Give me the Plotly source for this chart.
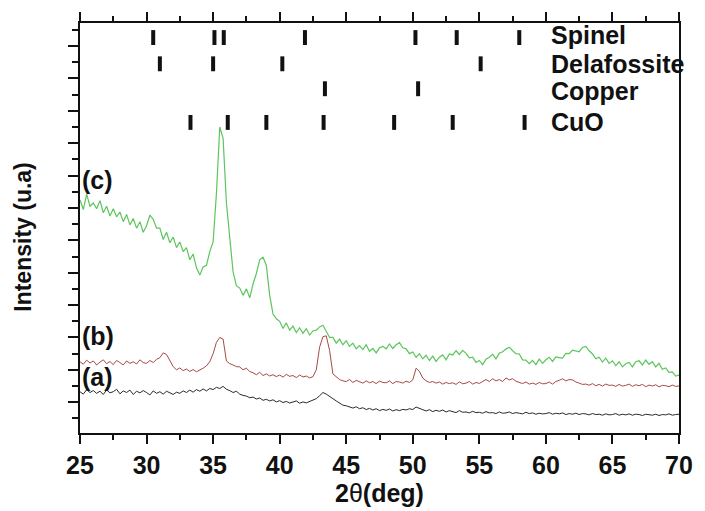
import numpy as np
import plotly.graph_objects as go

# 2-theta sampling grid (deg), 0.25 deg step
two_theta = np.round(np.arange(25.0, 70.0001, 0.25), 2)

# (a) black pattern
intensity_a = [
    165, 150, 178, 160, 172, 155, 168, 148, 176, 158, 165, 180, 152, 170, 160, 175,
    148, 168, 158, 172, 160, 145, 170, 155, 165, 150, 168, 158, 148, 162, 155, 170,
    160, 175, 162, 178, 168, 182, 170, 185, 178, 192, 185, 198, 180, 172, 160, 168,
    150, 142, 138, 128, 132, 120, 126, 112, 118, 108, 115, 102, 110, 98, 105, 95,
    100, 108, 94, 102, 96, 104, 110, 122, 140, 160, 150, 138, 122, 108, 95, 82,
    78, 70, 64, 72, 60, 66, 55, 62, 52, 60, 48, 56, 50, 58, 46, 54,
    48, 56, 52, 60, 55, 70, 62, 50, 46, 54, 42, 50, 44, 52, 40, 48,
    42, 36, 48, 38, 40, 34, 44, 36, 38, 32, 42, 34, 36, 30, 40, 32,
    34, 40, 30, 36, 32, 28, 38, 30, 34, 26, 32, 28, 30, 36, 26, 32,
    28, 34, 24, 30, 26, 32, 24, 30, 28, 22, 30, 24, 26, 20, 28, 22,
    24, 30, 20, 26, 22, 28, 20, 26, 24, 18, 26, 22, 20, 26, 18, 24,
    22, 28, 20, 24, 26,
]

# (b) red pattern
intensity_b = [
    350, 335, 360, 342, 355, 330, 348, 362, 338, 352, 332, 358, 345, 330, 355, 340,
    350, 336, 362, 345, 340, 358, 345, 365, 375, 405, 395, 360, 320, 300, 312, 295,
    305, 290, 302, 288, 298, 310, 325, 350, 400, 470, 500, 490, 355, 338, 330, 320,
    318, 300, 310, 290, 282, 270, 285, 265, 275, 262, 270, 258, 268, 255, 272, 260,
    265, 252, 268, 256, 262, 250, 258, 300, 440, 505, 510, 420, 275, 255, 240, 232,
    228, 240, 222, 235, 225, 218, 232, 220, 228, 215, 230, 222, 220, 232, 215, 228,
    225, 218, 230, 222, 238, 310, 290, 250, 232, 222, 228, 218, 225, 212, 222, 215,
    220, 210, 226, 214, 218, 228, 212, 222, 216, 230, 240, 228, 245, 232, 240, 228,
    250, 238, 245, 230, 222, 215, 225, 212, 218, 210, 222, 214, 215, 225, 212, 228,
    235, 245, 232, 240, 238, 225, 218, 210, 212, 205, 215, 202, 210, 200, 212, 204,
    206, 198, 210, 200, 204, 212, 198, 208, 202, 210, 196, 206, 200, 208, 195, 204,
    202, 196, 206, 198, 200,
]

# (c) green pattern
intensity_c = [
    1350, 1290, 1385, 1310, 1330, 1295, 1345, 1270, 1310, 1250, 1295, 1245, 1275, 1215, 1260, 1195,
    1235, 1175, 1215, 1150, 1190, 1255, 1230, 1175, 1175, 1105, 1150, 1085, 1120, 1055, 1090, 1030,
    1055, 980, 1015, 930, 885, 935, 945, 1030, 1090, 1390, 1800, 1730, 1330, 1100, 905, 820,
    805, 760, 800, 745, 830, 895, 980, 995, 945, 760, 645, 615, 600, 555, 590, 545,
    570, 530, 560, 525, 555, 515, 540, 545, 565, 575, 540, 500, 500, 465, 490, 455,
    480, 445, 465, 430, 450, 425, 455, 415, 432, 405, 436, 445, 430, 460, 432, 455,
    468, 436, 430, 400, 410, 378, 400, 368, 390, 358, 385, 352, 378, 392, 362, 398,
    392, 418, 395, 420, 402, 374, 378, 346, 358, 332, 366, 378, 396, 368, 402, 412,
    428, 440, 418, 400, 398, 362, 360, 338, 358, 332, 366, 340, 362, 378, 352, 380,
    376, 372, 402, 400, 422, 418, 412, 438, 445, 418, 398, 368, 378, 348, 372, 340,
    356, 326, 350, 318, 338, 346, 318, 350, 356, 330, 360, 334, 350, 318, 340, 304,
    312, 284, 288, 262, 268,
]

# reference peak positions (2-theta, deg) for each phase
phase_names = ["Spinel", "Delafossite", "Copper", "CuO"]
spinel_peaks = [30.5, 35.1, 35.8, 41.9, 50.2, 53.3, 58.0]
delafossite_peaks = [31.0, 35.0, 40.2, 55.1]
copper_peaks = [43.4, 50.4]
cuo_peaks = [33.3, 36.1, 39.0, 43.3, 48.6, 53.0, 58.4]
phase_peaks = [spinel_peaks, delafossite_peaks, copper_peaks, cuo_peaks]

# vertical level of each phase row and of its name
row_level = [2352, 2190, 2036, 1828]
row_half = 46
name_level = [2370, 2190, 2020, 1830]

curve_labels = ["(a)", "(b)", "(c)"]
curve_label_level = [254, 507, 1472]

font_family = "Liberation Sans, Arial, sans-serif"

fig = go.Figure()

fig.add_trace(go.Scatter(x=two_theta, y=intensity_a, mode="lines",
                         line=dict(color="#2a2a2a", width=1), showlegend=False))
fig.add_trace(go.Scatter(x=two_theta, y=intensity_b, mode="lines",
                         line=dict(color="#a64a44", width=1), showlegend=False))
fig.add_trace(go.Scatter(x=two_theta, y=intensity_c, mode="lines",
                         line=dict(color="#5cc55c", width=1.2), showlegend=False))

# phase reference sticks
for peaks, level in zip(phase_peaks, row_level):
    xs, ys = [], []
    for p in peaks:
        xs += [p, p, None]
        ys += [level - row_half, level + row_half, None]
    fig.add_trace(go.Scatter(x=xs, y=ys, mode="lines",
                             line=dict(color="#111111", width=4), showlegend=False))

annotations = []
for name, lvl in zip(phase_names, name_level):
    annotations.append(dict(x=60.2, y=lvl, xref="x", yref="y", text=name,
                            showarrow=False, xanchor="left", yanchor="middle",
                            font=dict(family=font_family, size=25, color="#111111",
                                      weight="bold")))
for lab, lvl in zip(curve_labels, curve_label_level):
    annotations.append(dict(x=25, y=lvl, xref="x", yref="y", text=lab,
                            showarrow=False, xanchor="left", yanchor="middle",
                            font=dict(family=font_family, size=25, color="#111111",
                                      weight="bold")))
# y-axis title, positioned in paper units
annotations.append(dict(x=(22 - 80) / 609, y=(511 - 72 - 238) / 420,
                        xref="paper", yref="paper", text="Intensity (u.a)",
                        showarrow=False, textangle=-90, xanchor="center", yanchor="middle",
                        font=dict(family=font_family, size=23, color="#111111",
                                  weight="bold")))

fig.update_layout(
    width=705, height=511,
    margin=dict(l=80, r=16, t=19, b=72),
    paper_bgcolor="white", plot_bgcolor="white",
    annotations=annotations,
)

fig.update_xaxes(
    range=[25, 70], tick0=25, dtick=5,
    ticks="outside", ticklen=9, tickwidth=2, tickcolor="#111111",
    minor=dict(dtick=2.5, ticks="outside", ticklen=5, tickwidth=2, tickcolor="#111111"),
    showline=True, linewidth=2, linecolor="#111111", mirror="ticks",
    showgrid=False, zeroline=False,
    tickfont=dict(family=font_family, size=25, color="#111111", weight="bold"),
    title=dict(text="<b>2</b>θ<b>(deg)</b>", standoff=2,
               font=dict(family=font_family, size=25, color="#111111")),
)
fig.update_yaxes(
    range=[-90, 2442], tick0=100, dtick=200,
    ticks="outside", ticklen=10, tickwidth=2, tickcolor="#111111",
    minor=dict(dtick=100, ticks="outside", ticklen=6, tickwidth=2, tickcolor="#111111"),
    showline=True, linewidth=2, linecolor="#111111", mirror=True,
    showgrid=False, zeroline=False, showticklabels=False,
)

fig.write_html("out.html")
